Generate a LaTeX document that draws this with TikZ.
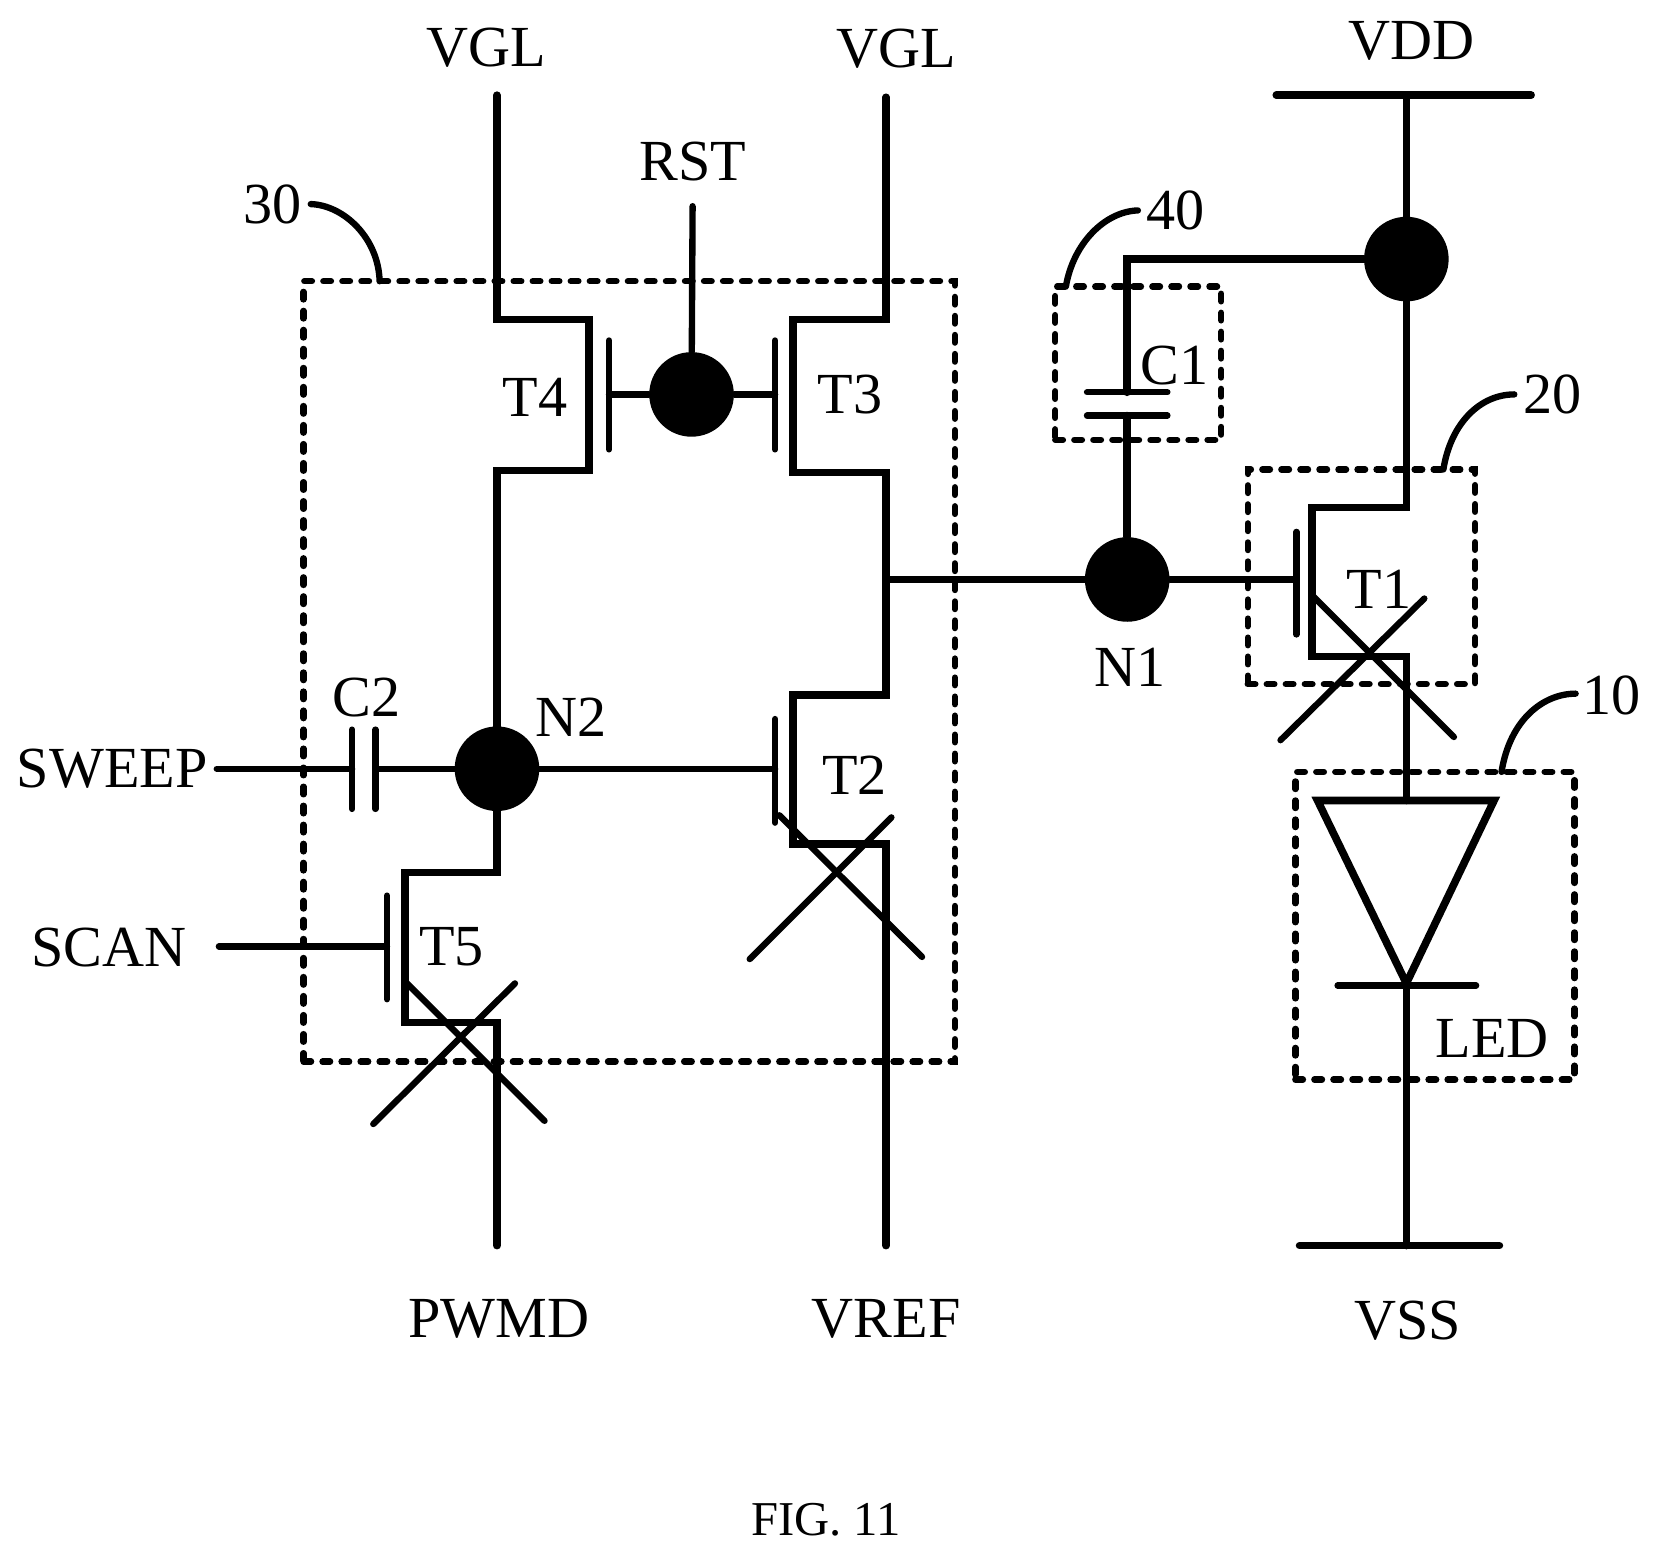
\documentclass[tikz,border=0pt]{standalone}
\usepackage{fontspec}
\setmainfont{Liberation Serif}
\begin{document}
\begin{tikzpicture}[x=0.5pt,y=-0.5pt,line join=miter,
  wire/.style={draw=black,line width=3.6pt,line cap=round},
  thin wire/.style={draw=black,line width=3pt,line cap=round},
  junction/.style={circle,fill=black,draw=none,inner sep=0pt,minimum size=40pt},
  dbox/.style={draw=black,line width=3pt,dash pattern=on 3.6pt off 5.4pt,line cap=round,rectangle,inner sep=0pt},
  leader/.style={draw=black,line width=3pt,line cap=round},
  lab/.style={inner sep=0pt,font=\fontsize{27.5}{30}\selectfont},
  figcap/.style={inner sep=0pt,font=\fontsize{23}{26}\selectfont}]
\useasboundingbox (0,0) rectangle (1568,1471.5);
% junctions
\node[junction] (jr) at (654,373) {};
\node[junction] (jn2) at (470,727) {};
\node[junction] (jn1) at (1066,548) {};
\node[junction] (jv) at (1330,245) {};
% dashed boxes
\node[dbox,minimum width=308pt,minimum height=369pt] (b30) at (595,635) {};
\node[dbox,minimum width=78.5pt,minimum height=72.5pt] (b40) at (1076.5,343.5) {};
\node[dbox,minimum width=107.5pt,minimum height=101.5pt] (b20) at (1287.5,545.5) {};
\node[dbox,minimum width=132pt,minimum height=145.5pt] (b10) at (1357,875.5) {};
% labels
\node[lab] (lv1) at (459.5,45) {VGL};
\node[lab] (lv2) at (847.5,46) {VGL};
\node[lab] (lrst) at (655,153) {RST};
\node[lab] (lvdd) at (1335,39) {VDD};
\node[lab] (l30) at (258,193) {30};
\node[lab] (l40) at (1112,199) {40};
\node[lab] (l20) at (1468,373) {20};
\node[lab] (l10) at (1524,658) {10};
\node[lab] (lc1) at (1111,346) {C1};
\node[lab] (lt4) at (506,376) {T4};
\node[lab] (lt3) at (804,373) {T3};
\node[lab] (lt1) at (1304,557) {T1};
\node[lab] (ln1) at (1069,631) {N1};
\node[lab] (ln2) at (540,678) {N2};
\node[lab] (lc2) at (347,660) {C2};
\node[lab] (lt2) at (808,733) {T2};
\node[lab] (lt5) at (427,895) {T5};
\node[lab] (lsw) at (106,727) {SWEEP};
\node[lab] (lsc) at (103,896) {SCAN};
\node[lab] (lled) at (1411,982) {LED};
\node[lab] (lpw) at (472,1247) {PWMD};
\node[lab] (lvr) at (838,1247) {VREF};
\node[lab] (lvs) at (1331,1249) {VSS};
\node[figcap] (lfig) at (781,1437) {FIG. 11};
% free ends
\coordinate (v1) at (470,90);
\coordinate (v2) at (838,92);
\coordinate (rst) at (655,195);
\coordinate (vdd) at (1330,90);
\coordinate (pw) at (470,1178);
\coordinate (vr) at (838,1178);
\coordinate (vs) at (1330,1178);
\coordinate (sw) at (205,727);
\coordinate (sc) at (207,895);
\coordinate (tap) at (838,548);
\coordinate (gt1) at (1226,548);
\coordinate (gt2) at (733,727);
\coordinate (gt4) at (576,373);
\coordinate (gt3) at (733,373);
\coordinate (gt5) at (366,895);
\coordinate (c2a) at (333,727);
\coordinate (c2b) at (355,727);
\coordinate (c1a) at (1066,371);
\coordinate (c1b) at (1066,393);
\coordinate (dtip) at (1330,930);
% rails
\draw[wire] (1207,90) -- (1448,90);
\draw[wire] (1229,1178) -- (1418,1178);
% transistor channels
\draw[wire] (v1) -- (470,302) -- (557,302) -- (557,445) -- (470,445) -- (jn2.center) -- (470,825) -- (383,825) -- (383,967) -- (470,967) -- (pw);
\draw[wire] (v2) -- (838,302) -- (750,302) -- (750,447) -- (838,447) -- (838,657) -- (750,657) -- (750,798) -- (838,798) -- (vr);
\draw[wire] (vdd) -- (jv.center) -- (1330,480) -- (1241,480) -- (1241,621) -- (1330,621) -- (1330,757);
% gates
\draw[thin wire] (576,322) -- (576,425);
\draw[thin wire] (733,322) -- (733,425);
\draw[thin wire] (733,680) -- (733,778);
\draw[thin wire] (366,847) -- (366,945);
\draw[thin wire] (1226,503) -- (1226,600);
\draw[thin wire] (rst) -- (jr);
\draw[thin wire] (gt4) -- (jr);
\draw[thin wire] (gt3) -- (jr);
\draw[thin wire] (jn2) -- (gt2);
\draw[thin wire] (c2b) -- (jn2);
\draw[thin wire] (sw) -- (c2a);
\draw[thin wire] (sc) -- (gt5);
\draw[thin wire] (tap) -- (jn1);
\draw[thin wire] (jn1) -- (gt1);
% capacitors
\draw[thin wire] (333,690) -- (333,765);
\draw[thin wire] (355,690) -- (355,765);
\draw[thin wire] (1028,371) -- (1104,371);
\draw[thin wire] (1028,393) -- (1104,393);
\draw[wire] (jv) -- (1066,245) -- (c1a);
\draw[wire] (c1b) -- (jn1);
% crosses
\draw[thin wire] (1241,563) -- (1375,697);
\draw[thin wire] (1347,566) -- (1211,700);
\draw[thin wire] (737,771) -- (872,905);
\draw[thin wire] (843,773) -- (709,907);
\draw[thin wire] (383,928) -- (515,1060);
\draw[thin wire] (487,930) -- (353,1063);
% diode
\draw[wire,line join=miter] (1246,757) -- (1413,757) -- (dtip) -- cycle;
\draw[thin wire] (1265,932) -- (1396,932);
\draw[wire] (dtip) -- (vs);
% leaders
\draw[leader] (l30.east) ++(8,0) .. controls (325,194) and (358,225) .. (359,266);
\draw[leader] (l40.west) ++(-8,0) .. controls (1045,200) and (1015,230) .. (1008,271);
\draw[leader] (l20.west) ++(-8,0) .. controls (1400,373) and (1372,400) .. (1365,444);
\draw[leader] (l10.west) ++(-6,-2) .. controls (1460,656) and (1428,680) .. (1420,730);
\end{tikzpicture}
\end{document}
